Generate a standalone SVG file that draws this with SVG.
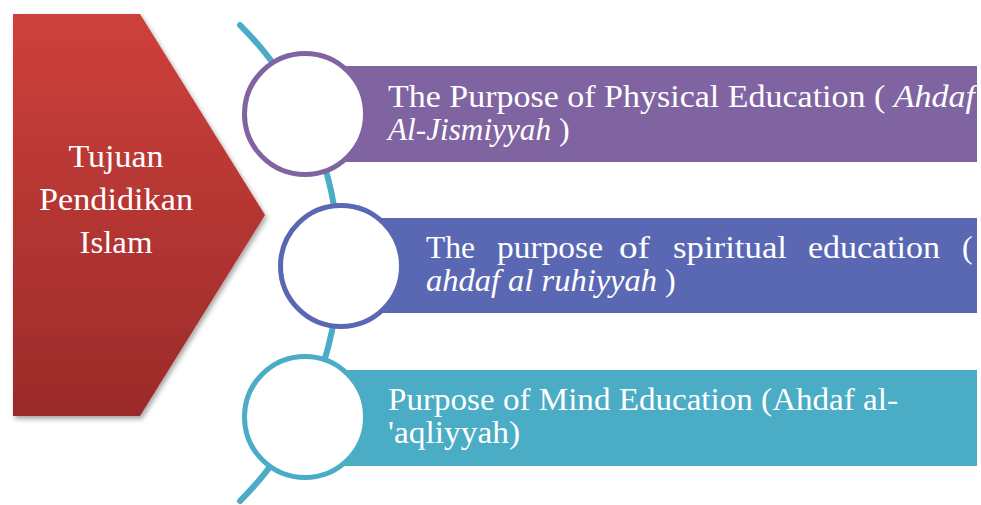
<svg xmlns="http://www.w3.org/2000/svg" width="981" height="505" viewBox="0 0 981 505">
<defs>
<linearGradient id="redGrad" x1="0" y1="0" x2="0" y2="1">
<stop offset="0" stop-color="#CE403B"/>
<stop offset="1" stop-color="#9B2B2A"/>
</linearGradient>
<filter id="shadow" x="-10%" y="-10%" width="130%" height="130%">
<feDropShadow dx="2" dy="3" stdDeviation="2.5" flood-color="#000" flood-opacity="0.35"/>
</filter>
</defs>
<style>
.t{font-family:"Liberation Serif","DejaVu Serif",serif;font-size:32px;fill:#ffffff}
.i{font-style:italic}
.ring{fill:#ffffff;stroke-width:5}
</style>
<g id="connectors">
<path d="M240,25 A336,336 0 0 1 240,501" fill="none" stroke="#4BACC6" stroke-width="6" stroke-linecap="round"/>
</g>
<g id="main">
<polygon points="13,14 140,14 265,215 140,416 13,416" fill="url(#redGrad)" filter="url(#shadow)"/>
<text class="t" x="116" y="167" text-anchor="middle" textLength="95" lengthAdjust="spacingAndGlyphs">Tujuan</text>
<text class="t" x="116" y="210" text-anchor="middle" textLength="154" lengthAdjust="spacingAndGlyphs">Pendidikan</text>
<text class="t" x="116" y="253" text-anchor="middle" textLength="73" lengthAdjust="spacingAndGlyphs">Islam</text>
</g>
<g id="node1">
<rect x="305" y="66" width="672" height="96" fill="#8064A2"/>
<circle class="ring" cx="305" cy="114" r="60.5" stroke="#8064A2"/>
<text class="t" x="388" y="107" textLength="587" lengthAdjust="spacingAndGlyphs">The Purpose of Physical Education ( <tspan class="i">Ahdaf</tspan></text>
<text class="t i" x="388" y="140" textLength="163" lengthAdjust="spacingAndGlyphs">Al-Jismiyyah</text>
<text class="t" x="559" y="140">)</text>
</g>
<g id="node2">
<rect x="341" y="218" width="636" height="95" fill="#5A68B4"/>
<circle class="ring" cx="341" cy="266" r="60.5" stroke="#5A68B4"/>
<text class="t" x="426" y="258" textLength="49" lengthAdjust="spacingAndGlyphs">The</text>
<text class="t" x="497" y="258" textLength="106" lengthAdjust="spacingAndGlyphs">purpose</text>
<text class="t" x="619" y="258" textLength="31" lengthAdjust="spacingAndGlyphs">of</text>
<text class="t" x="673" y="258" textLength="114" lengthAdjust="spacingAndGlyphs">spiritual</text>
<text class="t" x="808" y="258" textLength="132" lengthAdjust="spacingAndGlyphs">education</text>
<text class="t" x="962" y="258">(</text>
<text class="t i" x="426" y="291" textLength="231" lengthAdjust="spacingAndGlyphs">ahdaf al ruhiyyah</text>
<text class="t" x="665" y="291">)</text>
</g>
<g id="node3">
<rect x="305" y="370" width="672" height="96" fill="#4BACC6"/>
<circle class="ring" cx="305" cy="417" r="60.5" stroke="#4BACC6"/>
<text class="t" x="388" y="410" textLength="510" lengthAdjust="spacingAndGlyphs">Purpose of Mind Education (Ahdaf al-</text>
<text class="t" x="388" y="443" textLength="132" lengthAdjust="spacingAndGlyphs">'aqliyyah)</text>
</g>
</svg>
